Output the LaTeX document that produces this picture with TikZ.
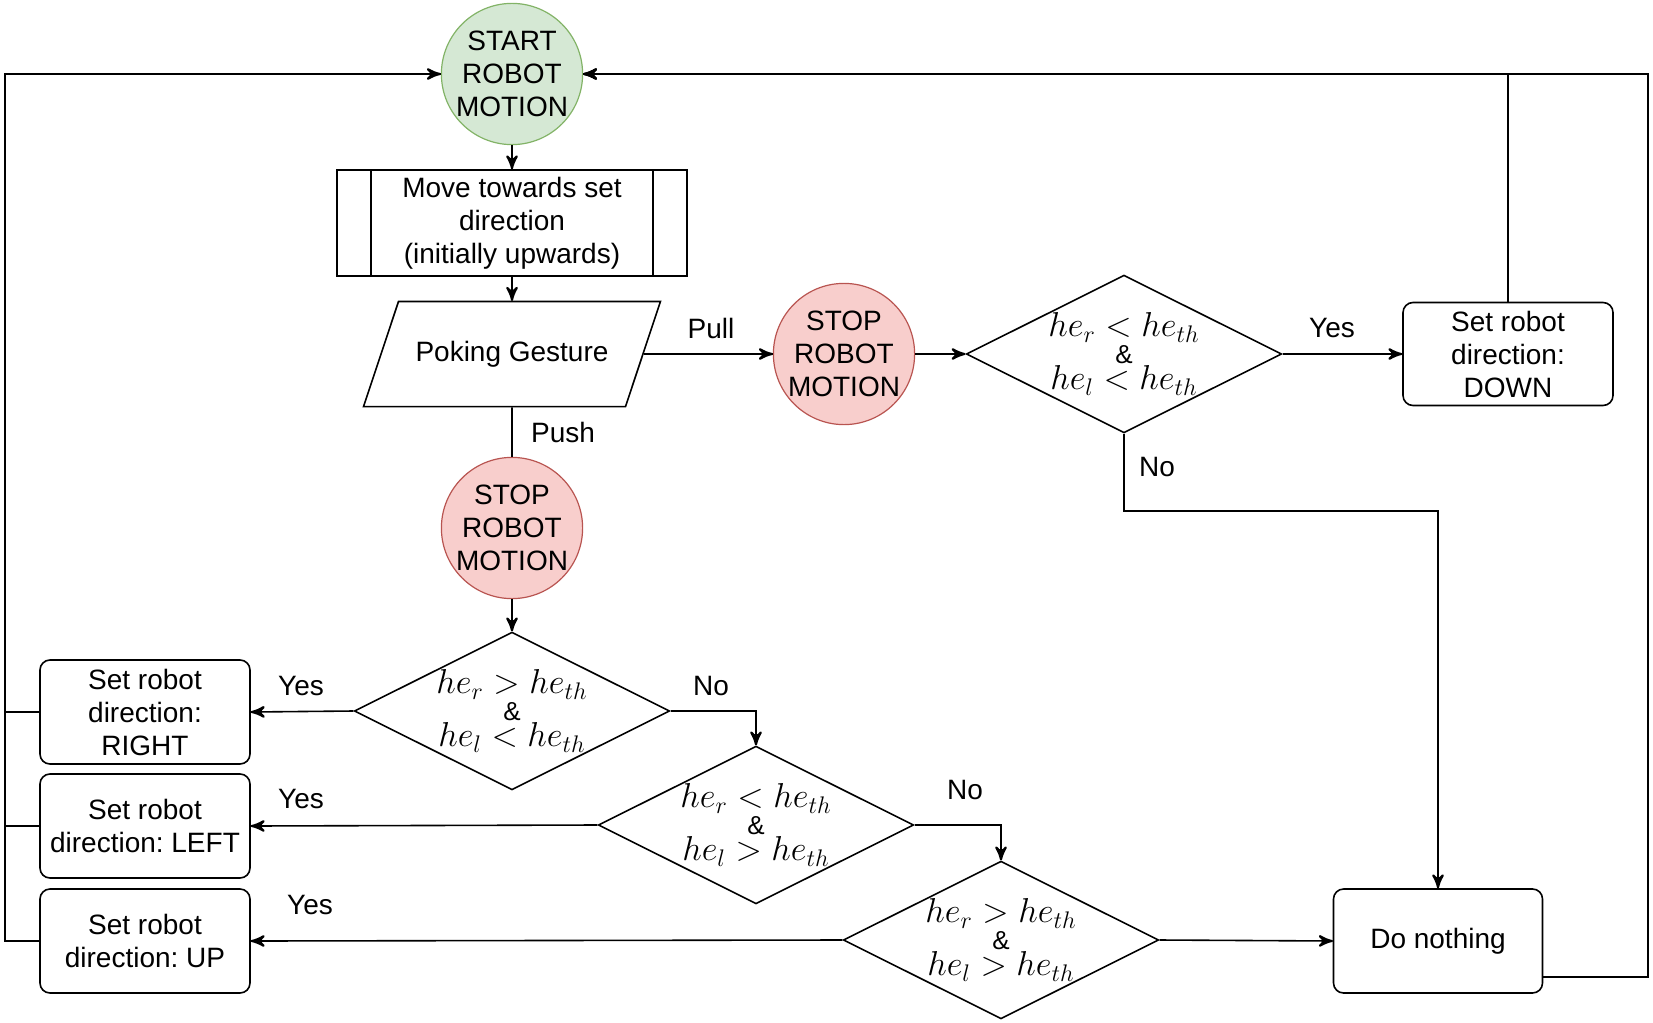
\documentclass[tikz,border=0pt]{standalone}
\usepackage{amsmath}
\usepackage{amssymb}
\usepackage{fontspec}
\setmainfont{Liberation Sans}
\frenchspacing
\usetikzlibrary{arrows}
\usetikzlibrary{decorations.markings}
\usetikzlibrary{shapes.geometric}
\tikzset{->/.style = {decoration={markings,
                                  mark=at position 1 with {\arrow[scale=1.4]{stealth'}}},
                      postaction={decorate}}}
\definecolor{mred}{HTML}{F8CECC}
\definecolor{mredline}{HTML}{B85450}
\definecolor{mgreen}{HTML}{D5E8D4}
\definecolor{mgreenline}{HTML}{82B366}
\tikzset{motion/.style = {circle, semithick, minimum size=70pt, inner sep=0pt, align=center},
         process/.style = {rectangle, draw, minimum width=175pt, minimum height=53pt, align=center},
         gesture/.style = {trapezium, draw, trapezium left angle=71.6, trapezium right angle=108.4,
                           inner xsep=8.5pt, inner ysep=19.75pt},
         decision/.style = {diamond, draw, aspect=2, inner sep=0pt, minimum width=157pt,
                            minimum height=78.5pt, align=center, font=\fontsize{16.5}{13.25}\selectfont},
         setdir/.style = {rectangle, draw, rounded corners=5pt, minimum width=105pt,
                          minimum height=52pt, align=center},
         lbl/.style = {inner sep=0pt}}
\newcommand{\amp}{{\fontsize{13}{13.25}\selectfont\&}}

\begin{document}
\begin{tikzpicture}[x=0.5pt, y=-0.5pt, thick, font=\fontsize{14}{16.5}\selectfont]
    \useasboundingbox (0, 0) rectangle (1653, 1022);

    \node [motion, draw=mgreenline, fill=mgreen] (start) at (512, 74) {START\\ROBOT\\MOTION};
    \node [process] (move) at (512, 223) {Move towards set\\direction\\(initially upwards)};
    \draw ([xshift=17.5pt] move.north west) -- ([xshift=17.5pt] move.south west);
    \draw ([xshift=-17.5pt] move.north east) -- ([xshift=-17.5pt] move.south east);
    \node [gesture] (poke) at (512, 354) {Poking Gesture};
    \node [motion, draw=mredline, fill=mred] (stopa) at (844, 354) {STOP\\ROBOT\\MOTION};
    \node [decision] (cdown) at (1124, 354) {$he_r < he_{th}$\\ \amp\\ $he_l < he_{th}$};
    \node [setdir, minimum height=51.5pt] (down) at (1508, 354) {Set robot\\direction:\\DOWN};
    \node [motion, draw=mredline, fill=mred] (stopb) at (512, 528) {STOP\\ROBOT\\MOTION};
    \node [decision] (cright) at (512, 711) {$he_r > he_{th}$\\ \amp\\ $he_l < he_{th}$};
    \node [decision] (cleft) at (756, 825) {$he_r < he_{th}$\\ \amp\\ $he_l > he_{th}$};
    \node [decision] (cup) at (1001, 940) {$he_r > he_{th}$\\ \amp\\ $he_l > he_{th}$};
    \node [setdir] (right) at (145, 712) {Set robot\\direction:\\RIGHT};
    \node [setdir] (left) at (145, 826) {Set robot\\direction: LEFT};
    \node [setdir] (up) at (145, 941) {Set robot\\direction: UP};
    \node [setdir, minimum width=104.5pt] (nothing) at (1438, 941) {Do nothing};

    \coordinate (ltop) at (5, 74);
    \coordinate (rtop) at (1648, 74);
    \coordinate (nobend) at (1438, 511);

    \draw [->] (start.south) -- (move.north);
    \draw [->] (move.south) -- (poke.north);
    \draw [->] (poke.east) -- (stopa.west);
    \draw [->] (stopa.east) -- (cdown.west);
    \draw [->] (cdown.east) -- (down.west);
    \draw [->] (down.north) |- (start.east);
    \draw [->] ([yshift=8.5pt] nothing.south east) -| (rtop) -- (start.east);
    \draw [->] (cdown.south) |- (nobend) -- (nothing.north);
    \draw (poke.south) -- (stopb.north);
    \draw [->] (stopb.south) -- (cright.north);
    \draw [->] (cright.west) -- (right.east);
    \draw [->] (cright.east) -| (cleft.north);
    \draw [->] (cleft.west) -- (left.east);
    \draw [->] (cleft.east) -| (cup.north);
    \draw [->] (cup.west) -- (up.east);
    \draw [->] (cup.east) -- (nothing.west);
    \draw [->] (up.west) -| (ltop) -- (start.west);
    \draw (right.west) -- (right.west -| ltop);
    \draw (left.west) -- (left.west -| ltop);

    \node [lbl] (pull) at (711, 328) {Pull};
    \node [lbl] (push) at (563, 432) {Push};
    \node [lbl] (yesdown) at (1332, 328) {Yes};
    \node [lbl] (nodown) at (1157, 467) {No};
    \node [lbl] (yesright) at (301, 686) {Yes};
    \node [lbl] (noright) at (711, 686) {No};
    \node [lbl] (yesleft) at (301, 799) {Yes};
    \node [lbl] (noleft) at (965, 790) {No};
    \node [lbl] (yesup) at (310, 905) {Yes};
\end{tikzpicture}
\end{document}
